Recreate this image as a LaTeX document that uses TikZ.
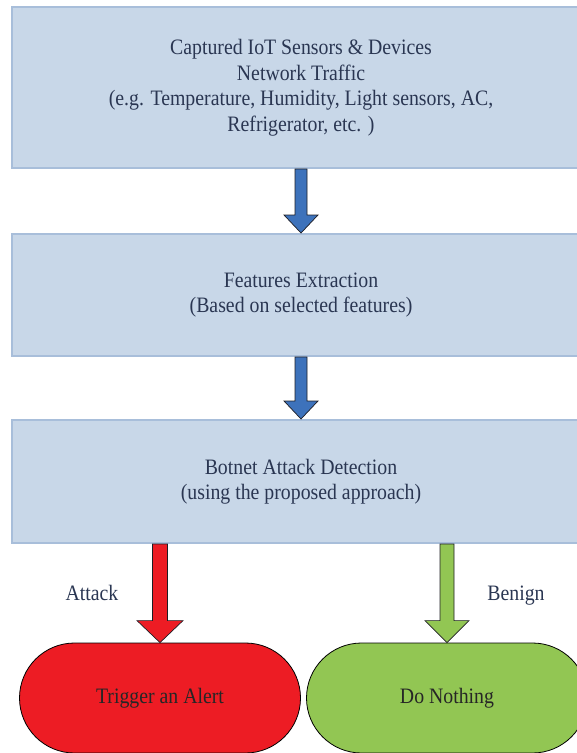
\documentclass[tikz,border=0pt]{standalone}
\usepackage{fontspec}
\setmainfont{Liberation Serif}[FakeStretch=0.9]
\usetikzlibrary{positioning,calc}

\definecolor{boxfill}{RGB}{200,215,232}
\definecolor{boxline}{RGB}{168,190,218}
\definecolor{inktext}{RGB}{42,54,82}
\definecolor{arrowblue}{RGB}{61,114,187}
\definecolor{arrowline}{RGB}{30,30,36}
\definecolor{alertred}{RGB}{237,28,36}
\definecolor{okgreen}{RGB}{146,198,83}

% block arrow: fill, from, to, half shaft, half head, head length
\newcommand{\blockarrow}[6]{%
  \draw[draw=arrowline, line width=0.7pt, fill=#1] let \p1=(#2), \p2=(#3) in
    (\x1-#4pt,\y1) -- (\x1-#4pt,\y2+#6pt) -- (\x1-#5pt,\y2+#6pt) -- (\x1,\y2)
    -- (\x1+#5pt,\y2+#6pt) -- (\x1+#4pt,\y2+#6pt) -- (\x1+#4pt,\y1) -- cycle;}

\tikzset{
  stagebox/.style={draw=boxline, line width=2pt, fill=boxfill, minimum width=578pt,
    text=inktext, align=center, inner sep=0pt, font=\fontsize{22}{25.5}\selectfont},
  outcome/.style={draw=black, line width=0.8pt, fill=#1, minimum width=281pt,
    minimum height=110pt, rounded corners=55pt, text=black!85,
    text height=15pt, text depth=5pt, font=\fontsize{22}{25.5}\selectfont},
  branchlbl/.style={text=inktext, text height=15pt, text depth=5pt,
    font=\fontsize{22}{25.5}\selectfont}
}

\begin{document}
\begin{tikzpicture}[x=1pt, y=-1pt]
\useasboundingbox (0,0) rectangle (577,753);
\clip (0,0) rectangle (577,753);

\node[stagebox, minimum height=161pt] (capture) at (301,87.5)
  {Captured IoT Sensors \& Devices\\Network Traffic\\(e.g. Temperature, Humidity, Light sensors, AC,\\Refrigerator, etc. )};
\node[stagebox, minimum height=122pt, below=64pt of capture] (features)
  {Features Extraction\\(Based on selected features)};
\node[stagebox, minimum height=123pt, below=62pt of features] (detect)
  {Botnet Attack Detection\\(using the proposed approach)};

\node[outcome=alertred] (alert) at (160,698) {Trigger an Alert};
\node[outcome=okgreen] (nothing) at (447,698) {Do Nothing};

\node[branchlbl] (attack) at (92,595) {Attack};
\node[branchlbl] (benign) at (516,595) {Benign};

\blockarrow{arrowblue}{capture.south}{features.north}{6}{17}{18}
\blockarrow{arrowblue}{features.south}{detect.north}{6}{17}{18}
\blockarrow{alertred}{detect.south -| alert.north}{alert.north}{7.5}{23}{22}
\blockarrow{okgreen}{detect.south -| nothing.north}{nothing.north}{7}{22}{22}
\end{tikzpicture}
\end{document}
